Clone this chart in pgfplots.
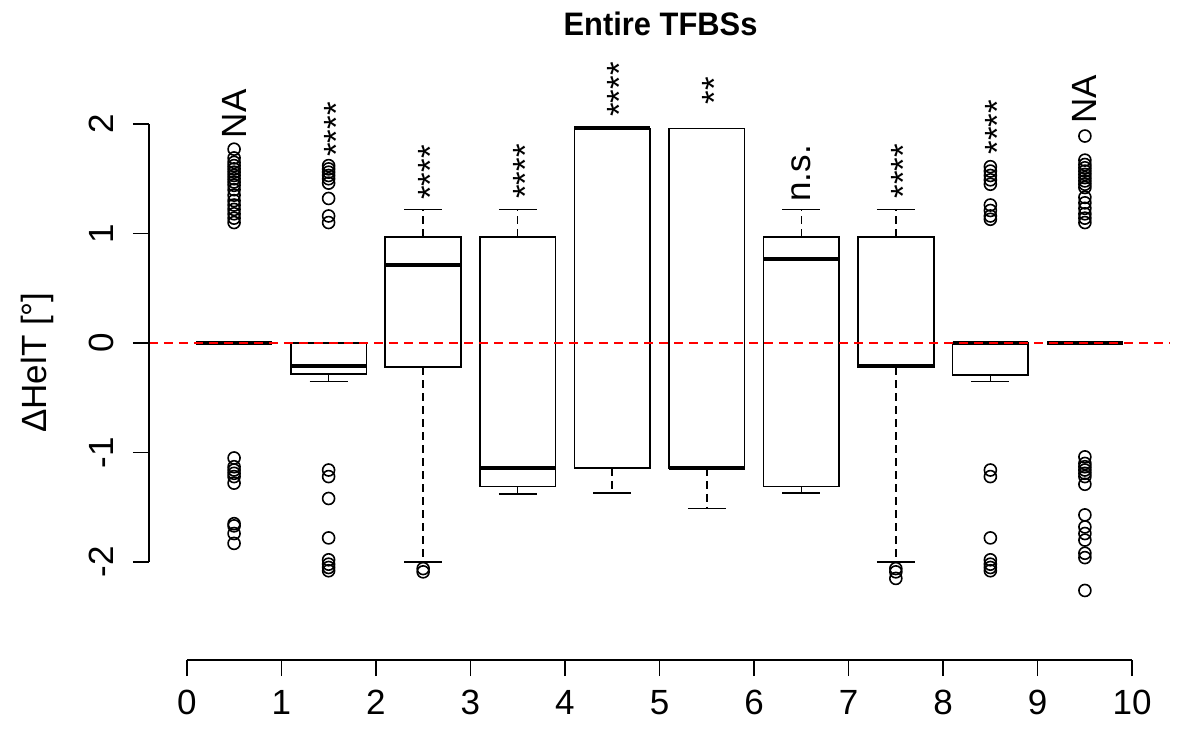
\documentclass[border=0pt]{standalone}
\usepackage{fontspec}
\setmainfont{Liberation Sans}
\newfontfamily\titlefont{Liberation Sans}[FakeStretch=0.95]
\usepackage{pgfplots}
\pgfplotsset{compat=1.18}
\usepgfplotslibrary{statistics}
\newcommand\lab{\fontsize{35bp}{42bp}\selectfont}
\pgfplotsset{
  boxplot/draw direction=y,
  boxplot/box extend=0.8,
  boxplot/whisker extend=0.4,
  boxplot/every box/.style={line width=1.7bp, draw=black},
  boxplot/every median/.style={line width=4.2bp, draw=black},
  boxplot/draw/lower whisker/.code={%
    \draw[line width=1.6bp, dash pattern=on 8bp off 5bp]
      (boxplot whisker cs:\pgfplotsboxplotvalue{lower quartile},0.5) --
      (boxplot whisker cs:\pgfplotsboxplotvalue{lower whisker},0.5);
    \draw[line width=1.6bp]
      (boxplot whisker cs:\pgfplotsboxplotvalue{lower whisker},0) --
      (boxplot whisker cs:\pgfplotsboxplotvalue{lower whisker},1);
  },
  boxplot/draw/upper whisker/.code={%
    \draw[line width=1.6bp, dash pattern=on 8bp off 5bp]
      (boxplot whisker cs:\pgfplotsboxplotvalue{upper quartile},0.5) --
      (boxplot whisker cs:\pgfplotsboxplotvalue{upper whisker},0.5);
    \draw[line width=1.6bp]
      (boxplot whisker cs:\pgfplotsboxplotvalue{upper whisker},0) --
      (boxplot whisker cs:\pgfplotsboxplotvalue{upper whisker},1);
  },
  bx/.style={black, mark=o, mark size=6bp, mark options={line width=1.6bp, solid}},
}
\tikzset{sig/.style={rotate=90, anchor=west, inner sep=0pt, font=\lab}}
\begin{document}
\begin{tikzpicture}
\useasboundingbox (-149bp,-90bp) rectangle (1051bp,660bp);
\begin{axis}[
  at={(0,0)}, anchor=south west,
  scale only axis, width=1021bp, height=596bp,
  xmin=-0.4, xmax=10.4, ymin=-2.895, ymax=2.548,
  clip=false,
  axis line style={draw=none},
  xtick={0,1,...,10}, ytick={-2,-1,0,1,2},
  xtick pos=left, ytick pos=left,
  tick align=outside,
  major tick length=16bp,
  major tick style={black, line width=1.5bp},
  ticklabel style={font=\lab, inner sep=0pt},
  /pgf/number format/assume math mode=true,
  xticklabel shift=14bp,
  yticklabel style={rotate=90, anchor=south},
  yticklabel shift=19bp,
  title={\bfseries Entire TFBSs},
  title style={at={(axis description cs:0.501,1.037)}, anchor=base, inner sep=0pt, font={\titlefont\fontsize{32.5bp}{38bp}\selectfont}},
  ylabel={ΔHelT [°]},
  ylabel style={at={(axis description cs:-0.093,0.499)}, anchor=south, inner sep=0pt, font=\lab},
]
% box 1
\addplot[bx, boxplot prepared={draw position=0.5, lower whisker=0, lower quartile=0, median=0, upper quartile=0, upper whisker=0}]
  table[row sep=\\, y index=0] {v\\ 1.77\\ 1.69\\ 1.65\\ 1.62\\ 1.59\\ 1.56\\ 1.53\\ 1.50\\ 1.47\\ 1.44\\ 1.40\\ 1.35\\ 1.30\\ 1.26\\ 1.22\\ 1.18\\ 1.14\\ 1.10\\ -1.05\\ -1.13\\ -1.16\\ -1.19\\ -1.22\\ -1.28\\ -1.65\\ -1.67\\ -1.74\\ -1.83\\};
% box 2
\addplot[bx, boxplot prepared={draw position=1.5, lower whisker=-0.35, lower quartile=-0.28, median=-0.21, upper quartile=0, upper whisker=0}]
  table[row sep=\\, y index=0] {v\\ 1.62\\ 1.59\\ 1.56\\ 1.53\\ 1.50\\ 1.46\\ 1.32\\ 1.16\\ 1.10\\ -1.16\\ -1.22\\ -1.42\\ -1.78\\ -1.98\\ -2.02\\ -2.05\\ -2.08\\};
% box 3
\addplot[bx, boxplot prepared={draw position=2.5, lower whisker=-2.0, lower quartile=-0.22, median=0.71, upper quartile=0.97, upper whisker=1.22}]
  table[row sep=\\, y index=0] {v\\ -2.06\\ -2.09\\};
% box 4
\addplot[bx, boxplot prepared={draw position=3.5, lower whisker=-1.38, lower quartile=-1.31, median=-1.14, upper quartile=0.97, upper whisker=1.22}]
  coordinates {};
% box 5
\addplot[bx, boxplot prepared={draw position=4.5, lower whisker=-1.37, lower quartile=-1.14, median=1.96, upper quartile=1.96, upper whisker=1.96}]
  coordinates {};
% box 6
\addplot[bx, boxplot prepared={draw position=5.5, lower whisker=-1.51, lower quartile=-1.14, median=-1.14, upper quartile=1.96, upper whisker=1.96}]
  coordinates {};
% box 7
\addplot[bx, boxplot prepared={draw position=6.5, lower whisker=-1.37, lower quartile=-1.31, median=0.77, upper quartile=0.97, upper whisker=1.22}]
  coordinates {};
% box 8
\addplot[bx, boxplot prepared={draw position=7.5, lower whisker=-2.0, lower quartile=-0.22, median=-0.21, upper quartile=0.97, upper whisker=1.22}]
  table[row sep=\\, y index=0] {v\\ -2.06\\ -2.09\\ -2.15\\};
% box 9
\addplot[bx, boxplot prepared={draw position=8.5, lower whisker=-0.35, lower quartile=-0.29, median=0, upper quartile=0, upper whisker=0}]
  table[row sep=\\, y index=0] {v\\ 1.61\\ 1.57\\ 1.53\\ 1.49\\ 1.45\\ 1.26\\ 1.21\\ 1.16\\ 1.13\\ -1.16\\ -1.22\\ -1.78\\ -1.98\\ -2.02\\ -2.05\\ -2.08\\};
% box 10
\addplot[bx, boxplot prepared={draw position=9.5, lower whisker=0, lower quartile=0, median=0, upper quartile=0, upper whisker=0}]
  table[row sep=\\, y index=0] {v\\ 1.89\\ 1.67\\ 1.63\\ 1.60\\ 1.57\\ 1.54\\ 1.51\\ 1.48\\ 1.45\\ 1.42\\ 1.33\\ 1.28\\ 1.23\\ 1.18\\ 1.14\\ 1.10\\ -1.04\\ -1.10\\ -1.13\\ -1.16\\ -1.19\\ -1.22\\ -1.29\\ -1.57\\ -1.68\\ -1.74\\ -1.80\\ -1.92\\ -1.96\\ -2.26\\};
% reference line
\addplot[red, line width=1.3bp, dash pattern=on 9bp off 6bp] coordinates {(-0.4,0) (10.4,0)};
% axis lines (R style)
\addplot[black, line width=1.5bp] coordinates {(0,-2.895) (10,-2.895)};
\addplot[black, line width=1.5bp] coordinates {(-0.4,-2) (-0.4,2)};
% significance labels
\node[sig] at (axis cs:0.5,1.87) {NA};
\node[sig] at (axis cs:1.58,1.70) {****};
\node[sig] at (axis cs:2.58,1.306) {****};
\node[sig] at (axis cs:3.58,1.315) {****};
\node[sig] at (axis cs:4.58,2.064) {****};
\node[sig] at (axis cs:5.58,2.18) {**};
\node[sig] at (axis cs:6.5,1.29) {n.s.};
\node[sig] at (axis cs:7.58,1.32) {****};
\node[sig] at (axis cs:8.58,1.72) {****};
\node[sig] at (axis cs:9.5,2.00) {NA};
\end{axis}
\end{tikzpicture}
\end{document}
